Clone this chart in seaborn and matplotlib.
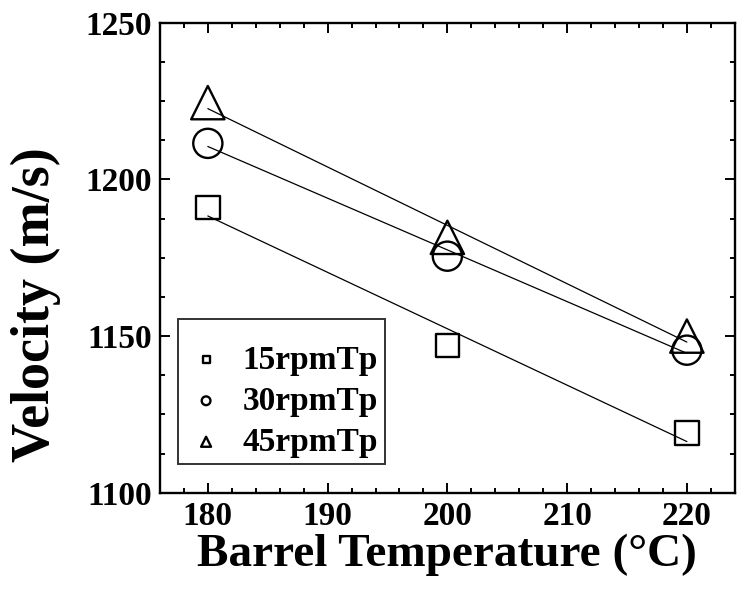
import matplotlib
matplotlib.use("Agg")
import matplotlib.pyplot as plt
import seaborn as sns
import numpy as np
import pandas as pd
from matplotlib.ticker import MultipleLocator

temps = [180, 200, 220]
v15 = [1191.0, 1147.0, 1119.0]
v30 = [1211.5, 1175.5, 1145.5]
v45 = [1224.5, 1181.5, 1150.0]
labels = ["15rpmTp", "30rpmTp", "45rpmTp"]

sns.set_style("ticks")
plt.rcParams["font.family"] = ["Liberation Serif", "DejaVu Serif"]
plt.rcParams["font.weight"] = "bold"
for k in ["text.color", "axes.labelcolor", "xtick.color", "ytick.color", "axes.edgecolor"]:
    plt.rcParams[k] = "black"

fig = plt.figure(figsize=(7.37, 5.98), dpi=100)
ax = fig.add_axes([0.217, 0.176, 0.780, 0.786])

series = [(v15, "s", 17), (v30, "o", 21), (v45, "^", 24)]
for (vals, mk, ms), lab in zip(series, labels):
    df = pd.DataFrame({"T": temps, "V": vals})
    sns.regplot(data=df, x="T", y="V", ax=ax, ci=None, truncate=True,
                marker=mk, label=lab,
                scatter_kws=dict(s=ms ** 2, facecolors="none", edgecolors="black",
                                 linewidths=1.7, alpha=1, zorder=3),
                line_kws=dict(color="black", lw=0.9, zorder=2))

ax.set_xlim(176, 224)
ax.set_ylim(1100, 1250)
ax.xaxis.set_major_locator(MultipleLocator(10))
ax.xaxis.set_minor_locator(MultipleLocator(2))
ax.yaxis.set_major_locator(MultipleLocator(50))
ax.yaxis.set_minor_locator(MultipleLocator(12.5))
ax.tick_params(which="both", direction="in", top=True, right=True, width=1.4, color="black")
ax.tick_params(which="major", length=7, labelsize=24, pad=6, labelcolor="black")
ax.tick_params(which="minor", length=3.5)
for lab in ax.get_xticklabels() + ax.get_yticklabels():
    lab.set_fontweight("bold")
for sp in ax.spines.values():
    sp.set_linewidth(1.7)
    sp.set_color("black")

ax.set_xlabel("Barrel Temperature (°C)", fontsize=34, fontweight="bold", labelpad=1, color="black")
ax.set_ylabel("Velocity (m/s)", fontsize=39, fontweight="bold", color="black")
ax.yaxis.set_label_coords(-0.172, 0.40)

leg = ax.legend(loc="upper left", bbox_to_anchor=(0.031, 0.37), borderaxespad=0,
                frameon=True, fancybox=False, edgecolor="black", markerscale=0.3,
                prop=dict(family=["Liberation Serif"], weight="bold", size=24),
                title=" ", title_fontsize=8,
                labelspacing=0.3, handletextpad=0.45, borderpad=0.2, handlelength=1.3)
leg.get_frame().set_linewidth(1.4)
for t in leg.get_texts():
    t.set_color("black")

fig.savefig("out.png", dpi=100)
